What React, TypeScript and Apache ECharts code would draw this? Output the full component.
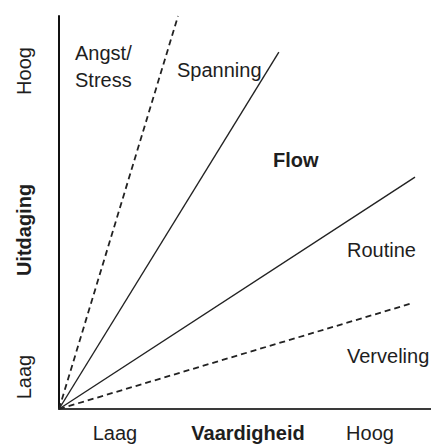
import React, { useEffect, useRef } from "react";
import * as echarts from "echarts";

// Boundary lines from the origin (x = vaardigheid 0..100, y = uitdaging 0..100)
const angstLine = [[0, 0], [32.0, 100]];
const spanningLine = [[0, 0], [59.1, 90.8]];
const routineLine = [[0, 0], [95.7, 59.0]];
const vervelingLine = [[0, 0], [95.2, 27.0]];

const lineNames = ["Angst", "Spanning", "Routine", "Verveling"];
const lineDashed = [true, false, false, true];

// Zone labels
const zoneTexts = ["Angst/\nStress", "Spanning", "Flow", "Routine", "Verveling"];

const xTickLabels = ["Laag", "Hoog"];
const yTickLabels = ["Laag", "Hoog"];
const xTitle = "Vaardigheid";
const yTitle = "Uitdaging";

const FONT = "'Liberation Sans', Arial, sans-serif";
const TXT = "#1e1e1e";

export default function App() {
  const ref = useRef<HTMLDivElement>(null);
  useEffect(() => {
    document.body.style.margin = "0";
    const chart = echarts.init(ref.current!, null, { renderer: "svg" });
    const lines = [angstLine, spanningLine, routineLine, vervelingLine];
    const t = (text: string, x: number, y: number, bold = false, extra: any = {}) => ({
      type: "text",
      x,
      y,
      rotation: extra.rotation || 0,
      style: {
        text,
        fill: TXT,
        font: `${bold ? "bold " : ""}20px ${FONT}`,
        textVerticalAlign: "middle",
        textAlign: extra.align || "left",
        lineHeight: extra.lineHeight || 27,
      },
    });
    chart.setOption({
      animation: false,
      grid: { left: 59, top: 16, right: 0, bottom: 35 },
      xAxis: {
        type: "value",
        min: 0,
        max: 100,
        axisLine: { show: true, lineStyle: { color: "#3a3a3a", width: 2 } },
        axisTick: { show: false },
        axisLabel: { show: false },
        splitLine: { show: false },
      },
      yAxis: {
        type: "value",
        min: 0,
        max: 100,
        axisLine: { show: true, lineStyle: { color: "#111", width: 2 } },
        axisTick: { show: false },
        axisLabel: { show: false },
        splitLine: { show: false },
      },
      series: lines.map((d, i) => ({
        name: lineNames[i],
        type: "line",
        data: d,
        symbol: "none",
        silent: true,
        lineStyle: {
          color: "#222",
          width: lineDashed[i] ? 1.8 : 1.4,
          type: lineDashed[i] ? [6, 4] : "solid",
        },
      })),
      graphic: [
        t(zoneTexts[0], 75, 66),
        t(zoneTexts[1], 177, 70),
        t(zoneTexts[2], 273, 160, true),
        t(zoneTexts[3], 347, 250),
        t(zoneTexts[4], 347, 356),
        t(xTickLabels[0], 115, 433, false, { align: "center", lineHeight: 20 }),
        t(xTitle, 248, 433, true, { align: "center", lineHeight: 20 }),
        t(xTickLabels[1], 370, 433, false, { align: "center", lineHeight: 20 }),
        t(yTickLabels[1], 24, 71, false, { align: "center", rotation: Math.PI / 2 }),
        t(yTitle, 24, 230, true, { align: "center", rotation: Math.PI / 2 }),
        t(yTickLabels[0], 24, 377, false, { align: "center", rotation: Math.PI / 2 }),
      ],
    });
    return () => chart.dispose();
  }, []);
  return (
    <div
      ref={ref}
      style={{ position: "fixed", left: 0, top: 0, width: 431, height: 444, background: "#fff" }}
    />
  );
}
